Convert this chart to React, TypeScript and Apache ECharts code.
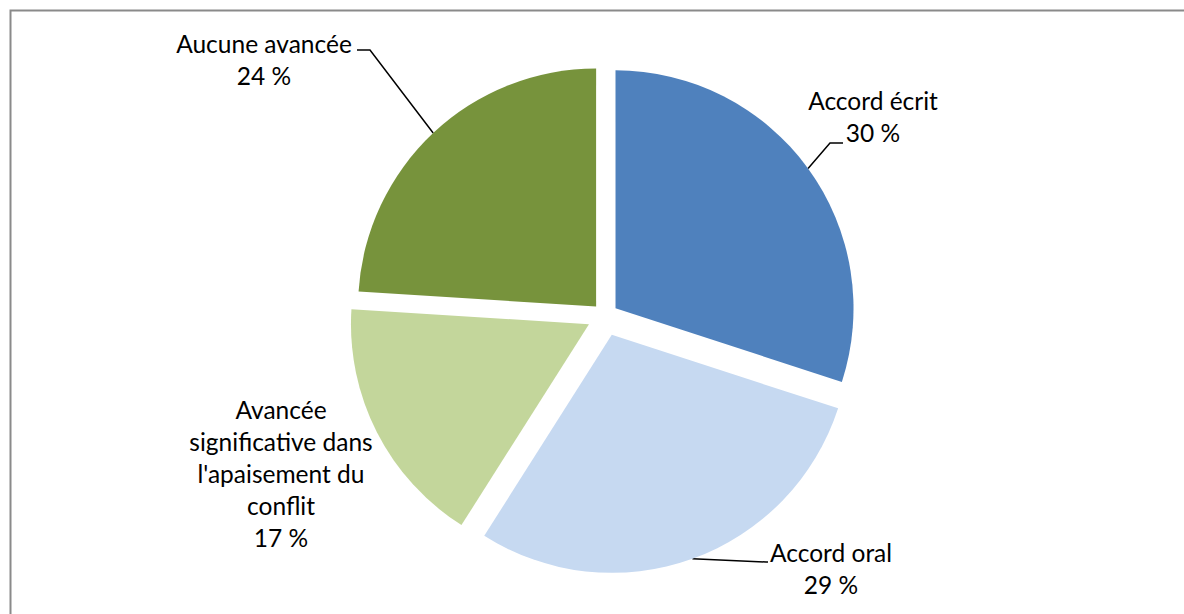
import React, { useEffect, useRef } from "react";
import * as echarts from "echarts";

const categories = [
  "Accord écrit",
  "Accord oral",
  "Avancée significative dans l'apaisement du conflit",
  "Aucune avancée",
];
const labelTexts = [
  "Accord écrit",
  "Accord oral",
  "Avancée\nsignificative dans\nl'apaisement du\nconflit",
  "Aucune avancée",
];
const values = [30, 29, 17, 24];
const colors = ["#4F81BD", "#C6D9F1", "#C3D69B", "#77933C"];
const explode = [13, 20, 18, 13];
const labelPos = [
  [873, 116],
  [831, 568],
  [281, 473],
  [264, 59],
];
// leader line elbow and end points (null: no leader line)
const lineElbow = [[830, 143], [766, 562], null, [370, 50]];
const lineEnd = [[843, 143], [768, 562], null, [357, 50]];

const CX = 605;
const CY = 316;
const R = 238;

export default function App() {
  const ref = useRef<HTMLDivElement>(null);
  useEffect(() => {
    if (!ref.current) return;
    const chart = echarts.init(ref.current, undefined, { renderer: "svg" });
    const total = values.reduce((a, b) => a + b, 0);
    let cum = 0;
    const series = categories.map((_, si) => {
      const mid = ((cum + values[si] / 2) / total) * 2 * Math.PI;
      cum += values[si];
      const cx = CX + explode[si] * Math.sin(mid);
      const cy = CY - explode[si] * Math.cos(mid);
      const hasLine = lineEnd[si] != null;
      return {
        type: "pie",
        silent: true,
        center: [cx, cy],
        radius: R,
        startAngle: 90,
        clockwise: true,
        avoidLabelOverlap: false,
        data: categories.map((name, i) => ({
          name,
          value: values[i],
          itemStyle: { color: i === si ? colors[i] : "rgba(0,0,0,0)" },
          label: {
            show: i === si,
            formatter: `${labelTexts[i]}\n${values[i]} %`,
          },
          labelLine: { show: i === si && hasLine },
        })),
        label: {
          position: "outside",
          fontFamily: "Lato, 'Open Sans', sans-serif",
          fontSize: 24.5,
          lineHeight: 32,
          color: "#000",
          align: "center",
        },
        labelLine: {
          lineStyle: { color: "#000", width: 1.5 },
          length: 20,
          length2: 10,
        },
        labelLayout: (params: any) => {
          const out: any = {
            x: labelPos[si][0],
            y: labelPos[si][1],
            align: "center",
            verticalAlign: "middle",
          };
          if (hasLine && params.labelLinePoints && params.labelLinePoints[0]) {
            out.labelLinePoints = [
              params.labelLinePoints[0],
              lineElbow[si],
              lineEnd[si],
            ];
          }
          return out;
        },
      };
    });
    chart.setOption({
      animation: false,
      backgroundColor: "#fff",
      graphic: [
        {
          type: "rect",
          shape: { x: 10.5, y: 10.5, width: 1300, height: 800 },
          style: { fill: "none", stroke: "#8a8a8a", lineWidth: 2 },
          silent: true,
          z: -1,
        },
      ],
      series,
    });
    return () => chart.dispose();
  }, []);
  return (
    <div
      ref={ref}
      style={{ position: "absolute", left: 0, top: 0, width: 1184, height: 614 }}
    />
  );
}
